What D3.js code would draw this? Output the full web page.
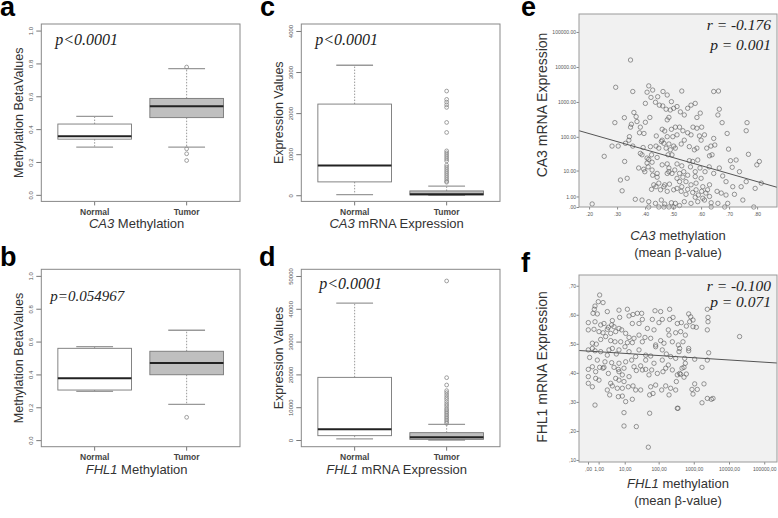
<!DOCTYPE html>
<html>
<head>
<meta charset="utf-8">
<script src="https://cdn.jsdelivr.net/npm/d3@7"></script>
<style>
  body { margin: 0; background: #fff; }
  svg { display: block; }
</style>
</head>
<body>
<svg id="fig" width="778" height="518"></svg>
<script>
const groups = ['Normal', 'Tumor'];

// box stats per group: [lower whisker, Q1, median, Q3, upper whisker]
const ca3MethStats = [[0.291, 0.339, 0.356, 0.431, 0.478], [0.291, 0.470, 0.539, 0.587, 0.768]];
const ca3MethOut = [[], [0.778, 0.280, 0.250, 0.209]];
const fhl1MethStats = [[0.297, 0.305, 0.376, 0.559, 0.569], [0.218, 0.398, 0.469, 0.541, 0.669]];
const fhl1MethOut = [[], [0.139]];
const ca3ExprStats = [[17, 325, 725, 2220, 3165], [0, 8, 24, 105, 220]];
const ca3ExprOut = [[], [2537, 2334, 2268, 2202, 2139, 1773, 1529, 1080, 1032, 983, 934, 885, 837,
  732, 683, 634, 585, 537, 488, 439, 390, 341, 317]];
const fhl1ExprStats = [[350, 1320, 3250, 19100, 41700], [0, 200, 810, 2240, 4780]];
const fhl1ExprOut = [[], [48480, 19000, 16770, 15040, 14430, 13720, 13000, 12400, 11690, 10980, 10370,
  9650, 9150, 8640, 8130, 7620, 7110, 6600, 6100, 5590, 5080]];

const methTicks = [0, 0.2, 0.4, 0.6, 0.8, 1.0];
const ca3ExprTicks = [0, 1000, 2000, 3000, 4000];
const fhl1ExprTicks = [0, 10000, 20000, 30000, 40000, 50000];

// panel e: [CA3 methylation, CA3 mRNA expression]
const ca3Points = [
  [0.348,15800],[0.295,2630],[0.356,1990],[0.413,2880],[0.427,2190],[0.407,1900],[0.421,1350],[0.445,1410],
  [0.464,1990],[0.479,1580],[0.494,1020],[0.437,980],[0.451,810],[0.463,770],[0.475,620],[0.49,590],
  [0.502,660],[0.514,740],[0.401,910],[0.36,500],[0.368,380],[0.326,355],[0.292,256],[0.351,230],
  [0.348,190],[0.371,275],[0.417,360],[0.401,262],[0.383,190],[0.344,101],[0.38,131],[0.396,125],
  [0.44,106],[0.461,165],[0.479,308],[0.485,362],[0.47,147],[0.494,165],[0.508,190],[0.514,114],
  [0.499,101],[0.479,101],[0.461,80],[0.467,65],[0.485,62],[0.502,54],[0.508,47],[0.49,42],
  [0.475,47],[0.458,73],[0.282,54],[0.304,54],[0.33,65],[0.356,54],[0.342,80],[0.393,49],
  [0.419,52],[0.439,54],[0.449,47],[0.423,30],[0.383,33],[0.389,30],[0.407,24],[0.413,22],
  [0.443,25],[0.482,30],[0.496,30],[0.254,27],[0.327,19],[0.377,12],[0.399,9.2],[0.395,11],
  [0.411,13],[0.425,18],[0.407,17],[0.425,10.4],[0.443,8.1],[0.461,15],[0.479,16],[0.485,12],
  [0.506,10.4],[0.514,16],[0.479,8.1],[0.485,9.2],[0.496,8.1],[0.443,6.1],[0.427,7.1],[0.449,3.8],
  [0.431,3.3],[0.439,2.8],[0.47,3.3],[0.487,3.5],[0.514,5.6],[0.312,4.9],[0.336,5.6],[0.318,1.9],
  [0.423,2.2],[0.455,2.1],[0.467,2.8],[0.479,1.8],[0.502,2.1],[0.514,2.4],[0.365,0.66],[0.389,0.58],
  [0.413,0.42],[0.458,0.58],[0.437,0.27],[0.47,0.22],[0.494,0.32],[0.508,0.27],[0.211,0.22],[0.413,0],
  [0.449,0],[0.467,0],[0.485,0],[0.502,0],
  [0.531,2050],[0.645,1990],[0.662,2050],[0.579,910],[0.564,810],[0.552,660],[0.526,520],[0.54,425],
  [0.597,480],[0.585,360],[0.665,620],[0.66,425],[0.675,256],[0.764,256],[0.761,150],[0.693,125],
  [0.571,190],[0.585,177],[0.602,190],[0.523,190],[0.535,150],[0.552,131],[0.564,114],[0.594,106],
  [0.612,114],[0.6,80],[0.645,90],[0.54,80],[0.529,62],[0.558,52],[0.576,42],[0.585,47],
  [0.62,47],[0.635,54],[0.649,58],[0.698,44],[0.769,31],[0.63,28],[0.639,30],[0.558,20],
  [0.57,19],[0.588,21],[0.531,14],[0.705,20],[0.725,21],[0.711,12.6],[0.737,9.2],[0.808,19],
  [0.799,15],[0.815,3.8],[0.793,2.4],[0.761,4.3],[0.743,2.8],[0.713,2.8],[0.689,4.3],[0.677,6.7],
  [0.665,12],[0.645,8.1],[0.629,13],[0.614,9.2],[0.596,12],[0.579,9.2],[0.552,7.1],[0.535,6.1],
  [0.523,4.3],[0.546,4.3],[0.564,3.3],[0.582,3.8],[0.606,2.8],[0.63,3.3],[0.657,1.8],[0.672,1.5],
  [0.689,1.2],[0.719,1.3],[0.529,1.8],[0.546,1.3],[0.57,1.6],[0.59,1.2],[0.617,1.5],[0.54,0.42],
  [0.564,0.27],[0.588,0.42],[0.612,0.58],[0.636,0.32],[0.66,0.27],[0.695,0.27],[0.749,0.58],[0.523,0.1],
  [0.636,0],[0.684,0],[0.788,0],[0.523,8.1],[0.538,9.2],[0.562,13],[0.579,6.4],[0.6,5.6],
  [0.531,2.8],[0.552,2.2],[0.582,2.1],[0.602,1.8],[0.623,2.1],[0.579,0.9],[0.606,0.78],[0.63,1.0]
];

// panel f: [FHL1 value on x axis, FHL1 value on y axis]
const fhl1Points = [
  [1.14,0.668],[0.96,0.645],[1.67,0.642],[0.58,0.630],[0.51,0.619],
  [0.39,0.605],[0.84,0.603],[2.53,0.611],[6.57,0.616],[12.1,0.619],[17.9,0.601],[24.1,0.605],[32.3,0.605],
  [78.6,0.614],[114,0.611],[206,0.619],[6.91,0.591],[13.6,0.596],
  [0.02,0.573],[0.58,0.576],[3.9,0.58],[3.69,0.565],[1.84,0.57],[2.78,0.557],[1.29,0.565],[4.47,0.559],
  [17.1,0.57],[27,0.57],[33.8,0.584],[65.8,0.584],[127,0.584],[102,0.573],[206,0.584],[257,0.591],
  [341,0.57],[47.2,0.553],[189,0.548],
  [0.02,0.548],[0.48,0.55],[1.05,0.542],[1.67,0.538],[2.53,0.55],[3.4,0.536],[5.1,0.542],[8.02,0.548],
  [10.7,0.536],[13.6,0.522],[19.2,0.519],[27,0.53],[40.4,0.522],[59,0.519],[114,0.511],[198,0.53],
  [306,0.538],[73.5,0.548],[6.57,0.553],
  [0.33,0.502],[1.29,0.515],[2.17,0.525],[3.4,0.511],[4.83,0.507],[7.45,0.507],[12.1,0.504],[17.1,0.504],
  [33.8,0.507],[82,0.496],[142,0.502],[246,0.507],[364,0.496],[0.72,0.499],
  [0.33,0.484],[0.02,0.479],[0.58,0.476],[1.29,0.473],[2.94,0.479],[3.9,0.484],[6.57,0.479],[10.2,0.49],
  [13.6,0.473],[27,0.479],[42.3,0.461],[82,0.49],[127,0.479],[166,0.465],[220,0.456],[381,0.473],
  [2.53,0.461],[5.37,0.465],[21.5,0.456],[59,0.458],
  [0.11,0.453],[0.84,0.444],[2.03,0.438],[3.69,0.435],[6.57,0.433],[10.7,0.438],[16.3,0.444],[4.47,0.419],
  [6.26,0.412],[9.5,0.416],[19.2,0.421],[30.2,0.424],[42.3,0.444],[73.5,0.433],[127,0.444],[189,0.427],
  [306,0.45],[0.33,0.421],[1.14,0.419],[1.84,0.419],
  [0.02,0.412],[0.65,0.404],[1.67,0.416],[2.78,0.398],[6.57,0.404],[8.42,0.393],[13.6,0.387],[22.5,0.408],
  [33.8,0.41],[42.3,0.412],[52.7,0.393],[63,0.41],[91.7,0.398],[133,0.404],[159,0.416],[246,0.41],
  [341,0.393],[0.02,0.387],[0.65,0.381],[5.1,0.381],
  [0.02,0.364],[0.33,0.352],[1.05,0.375],[3.4,0.364],[3.9,0.355],[6.57,0.375],[9.5,0.37],[12.9,0.352],
  [17.9,0.355],[21.5,0.341],[30.2,0.341],[59,0.352],[82,0.358],[159,0.355],[220,0.347],[320,0.37],
  [5.8,0.347],[2.53,0.341],[8.42,0.347],[122,0.341],
  [3.12,0.324],[6.26,0.318],[10.7,0.301],[17.1,0.309],[55.1,0.324],[68.8,0.329],[198,0.324],[306,0.341],
  [0.58,0.289],[341,0.278],[8.42,0.32],
  [9.5,0.263],[55.1,0.261],[9.5,0.217],[22.5,0.215],[50.5,0.144],
  [2426,0.619],[717,0.603],[818,0.593],[952,0.582],[765,0.576],[952,0.559],[1182,0.557],[2534,0.591],
  [2534,0.576],[2426,0.548],[444,0.573],[616,0.561],[424,0.542],[576,0.53],[494,0.507],[397,0.484],
  [717,0.484],[717,0.476],[2648,0.469],[19950,0.525],[551,0.45],[1061,0.447],[2426,0.444],[576,0.433],
  [464,0.416],[397,0.398],[528,0.419],[616,0.396],[528,0.385],[1713,0.419],[424,0.395],[1061,0.362],
  [1950,0.362],[890,0.343],[1259,0.343],[952,0.327],[1713,0.297],[2426,0.312],[3153,0.309],[3516,0.312],
  [356,0.278]
];

// fitted lines: panel e is linear in log10(expr+1), panel f linear in log10(x+1)
const ca3Fit = { intercept: 2.555, slope: -2.287 };
const fhl1Fit = { intercept: 0.475, slope: -0.00766 };

const expTicks = [0, 1, 10, 100, 1000, 10000, 100000];
const ca3MethAxisTicks = [0.2, 0.3, 0.4, 0.5, 0.6, 0.7, 0.8];
const fhl1YTicks = [0.1, 0.2, 0.3, 0.4, 0.5, 0.6, 0.7];

const svg = d3.select('#fig');
const sans = "'Liberation Sans', Arial, sans-serif";
const serif = "'Liberation Serif', 'Times New Roman', serif";
const boxW = 198.7, boxH = 177.4;

function letter(txt, x, y) {
  svg.append('text').attr('x', x).attr('y', y)
    .attr('font-family', sans).attr('font-weight', 'bold').attr('font-size', 27)
    .text(txt);
}

function boxPanel(o) {
  const g = svg.append('g').attr('transform', `translate(${o.x},${o.y})`);
  const x = d3.scaleLinear().domain([0.42, 2.58]).range([0, boxW]);
  const y = d3.scaleLinear().domain(o.yDomain).range([boxH, 0]);

  // y axis, R style with rotated labels
  const ya = g.append('g').call(d3.axisLeft(y).tickValues(o.ticks).tickSize(5).tickSizeOuter(0).tickFormat(o.fmt));
  ya.select('.domain').remove();
  ya.selectAll('line').attr('stroke', '#777');
  ya.selectAll('text')
    .attr('x', null).attr('dy', null)
    .attr('transform', 'translate(-8.5,0) rotate(-90)')
    .attr('text-anchor', 'middle')
    .attr('font-family', sans).attr('font-size', 6).attr('fill', '#555');

  // x axis
  groups.forEach((name, i) => {
    const cx = x(i + 1);
    g.append('line').attr('x1', cx).attr('x2', cx).attr('y1', boxH).attr('y2', boxH + 4).attr('stroke', '#777');
    g.append('text').attr('x', cx).attr('y', boxH + 13.5).attr('text-anchor', 'middle')
      .attr('font-family', sans).attr('font-weight', 'bold').attr('font-size', 8.5).attr('fill', '#444')
      .text(name);
  });

  g.append('rect').attr('width', boxW).attr('height', boxH)
    .attr('fill', 'none').attr('stroke', '#888').attr('stroke-width', 1);

  o.stats.forEach((s, i) => {
    const c = i + 1;
    const [lo, q1, med, q3, hi] = s;
    const dash = '1.5,1.5';
    g.append('line').attr('x1', x(c)).attr('x2', x(c)).attr('y1', y(q3)).attr('y2', y(hi))
      .attr('stroke', '#999').attr('stroke-dasharray', dash);
    g.append('line').attr('x1', x(c)).attr('x2', x(c)).attr('y1', y(q1)).attr('y2', y(lo))
      .attr('stroke', '#999').attr('stroke-dasharray', dash);
    [lo, hi].forEach(v => {
      g.append('line').attr('x1', x(c - 0.2)).attr('x2', x(c + 0.2)).attr('y1', y(v)).attr('y2', y(v))
        .attr('stroke', '#999').attr('stroke-width', 1.3);
    });
    g.append('rect').attr('x', x(c - 0.4)).attr('width', x(c + 0.4) - x(c - 0.4))
      .attr('y', y(q3)).attr('height', Math.max(y(q1) - y(q3), 0.5))
      .attr('fill', i === 0 ? '#fff' : '#bfbfbf').attr('stroke', '#777').attr('stroke-width', 0.9);
    g.append('line').attr('x1', x(c - 0.4)).attr('x2', x(c + 0.4)).attr('y1', y(med)).attr('y2', y(med))
      .attr('stroke', '#222').attr('stroke-width', 2);
    g.selectAll(null).data(o.outliers[i]).join('circle')
      .attr('cx', x(c)).attr('cy', d => y(d)).attr('r', 1.9)
      .attr('fill', 'none').attr('stroke', '#888').attr('stroke-width', 0.8);
  });

  g.append('text').attr('x', o.pX).attr('y', o.pY)
    .attr('font-family', serif).attr('font-style', 'italic').attr('font-size', o.pSize || 16).attr('fill', '#222')
    .text(o.p);

  const xt = g.append('text').attr('x', boxW / 2 - 4).attr('y', boxH + 27)
    .attr('text-anchor', 'middle').attr('font-family', sans).attr('font-size', 13).attr('fill', '#333');
  xt.append('tspan').attr('font-style', 'italic').text(o.gene);
  xt.append('tspan').text(o.xTitle);

  g.append('text').attr('transform', `translate(${-18.5},${boxH / 2}) rotate(-90)`)
    .attr('text-anchor', 'middle').attr('font-family', sans).attr('font-size', 12.5).attr('fill', '#333')
    .text(o.yTitle);
}

boxPanel({ x: 41.3, y: 24, yDomain: [-0.04, 1.04], ticks: methTicks, fmt: d3.format('.1f'),
  stats: ca3MethStats, outliers: ca3MethOut, p: 'p<0.0001', pX: 14, pY: 20.5,
  gene: 'CA3', xTitle: ' Methylation', yTitle: 'Methylation BetaValues' });
boxPanel({ x: 41.3, y: 269.3, yDomain: [-0.04, 1.04], ticks: methTicks, fmt: d3.format('.1f'),
  stats: fhl1MethStats, outliers: fhl1MethOut, p: 'p=0.054967', pX: 9, pY: 31.5, pSize: 15,
  gene: 'FHL1', xTitle: ' Methylation', yTitle: 'Methylation BetaValues' });
boxPanel({ x: 301.3, y: 24, yDomain: [-150, 4170], ticks: ca3ExprTicks, fmt: d3.format('d'),
  stats: ca3ExprStats, outliers: ca3ExprOut, p: 'p<0.0001', pX: 14, pY: 20.5,
  gene: 'CA3', xTitle: ' mRNA Expression', yTitle: 'Expression Values' });
boxPanel({ x: 301.3, y: 269.3, yDomain: [-2040, 52040], ticks: fhl1ExprTicks, fmt: d3.format('d'),
  stats: fhl1ExprStats, outliers: fhl1ExprOut, p: 'p<0.0001', pX: 18, pY: 20,
  gene: 'FHL1', xTitle: ' mRNA Expression', yTitle: 'Expression Values' });

function scatterPanel(o) {
  const w = 198, h = o.h;
  const g = svg.append('g').attr('transform', `translate(${o.x},${o.y})`);
  const x = o.xScale.range([0, w]);
  const y = o.yScale.range([h, 0]);

  g.append('rect').attr('width', w).attr('height', h).attr('fill', '#f1f1f1');

  const ya = g.append('g').call(d3.axisLeft(y).tickValues(o.yTicks).tickSize(2.5).tickSizeOuter(0).tickFormat(o.yFmt));
  ya.select('.domain').remove();
  ya.selectAll('line').attr('stroke', '#888');
  ya.selectAll('text').attr('x', -3).attr('font-family', sans).attr('font-size', 5).attr('fill', '#555');

  const xa = g.append('g').attr('transform', `translate(0,${h})`)
    .call(d3.axisBottom(x).tickValues(o.xTicks).tickSize(2.5).tickSizeOuter(0).tickFormat(o.xFmt));
  xa.select('.domain').remove();
  xa.selectAll('line').attr('stroke', '#888');
  xa.selectAll('text').attr('y', 5).attr('font-family', sans).attr('font-size', 5).attr('fill', '#555');

  g.selectAll('circle.pt').data(o.points).join('circle').attr('class', 'pt')
    .attr('cx', d => x(d[0])).attr('cy', d => y(d[1])).attr('r', 2.2)
    .attr('fill', 'none').attr('stroke', '#555').attr('stroke-width', 0.6);

  const xd = x.domain();
  g.append('path').datum(xd.map(v => [v, o.fit(v)]))
    .attr('d', d3.line().x(d => x(d[0])).y(d => y(d[1])))
    .attr('fill', 'none').attr('stroke', '#555').attr('stroke-width', 1);

  g.append('rect').attr('width', w).attr('height', h).attr('fill', 'none').attr('stroke', '#999');

  o.stat.forEach((t, i) => {
    g.append('text').attr('x', w - 6).attr('y', o.statY[i]).attr('text-anchor', 'end')
      .attr('font-family', serif).attr('font-style', 'italic').attr('font-size', 15.5).attr('fill', '#222')
      .text(t);
  });

  g.append('text').attr('transform', `translate(${-32},${o.yTitleY}) rotate(-90)`)
    .attr('text-anchor', 'middle').attr('font-family', sans).attr('font-size', 14).attr('fill', '#333')
    .text(o.yTitle);

  const xt = g.append('text').attr('x', w / 2).attr('y', o.xTitleY)
    .attr('text-anchor', 'middle').attr('font-family', sans).attr('font-size', 13).attr('fill', '#333');
  xt.append('tspan').attr('font-style', 'italic').text(o.gene);
  xt.append('tspan').text(' methylation');
  g.append('text').attr('x', w / 2).attr('y', o.xTitleY + 17)
    .attr('text-anchor', 'middle').attr('font-family', sans).attr('font-size', 13).attr('fill', '#333')
    .text('(mean \u03B2-value)');
}

const lg = v => Math.sign(v) * Math.log10(1 + Math.abs(v));

scatterPanel({
  x: 579, y: 14, h: 193, points: ca3Points,
  xScale: d3.scaleLinear().domain([0.164, 0.871]),
  yScale: d3.scaleSymlog().constant(1).domain([0, 326000]),
  xTicks: ca3MethAxisTicks, xFmt: v => d3.format('.2f')(v).replace(/^0/, ''),
  yTicks: expTicks, yFmt: v => v === 0 ? '.00' : d3.format('.2f')(v),
  fit: v => Math.pow(10, ca3Fit.intercept + ca3Fit.slope * v) - 1,
  stat: ['r = -0.176', 'p = 0.001'], statY: [16, 36],
  yTitle: 'CA3 mRNA Expression', yTitleY: 91, gene: 'CA3', xTitleY: 226
});

scatterPanel({
  x: 579, y: 275, h: 187, points: fhl1Points,
  xScale: d3.scaleSymlog().constant(1).domain([-0.8, 230000]),
  yScale: d3.scaleLinear().domain([0.093, 0.737]),
  xTicks: expTicks, xFmt: v => v === 0 ? ',00' : d3.format('.2f')(v).replace('.', ','),
  yTicks: fhl1YTicks, yFmt: v => d3.format('.2f')(v).replace(/^0\./, ','),
  fit: v => fhl1Fit.intercept + fhl1Fit.slope * lg(v),
  stat: ['r = -0.100', 'p = 0.071'], statY: [16, 32],
  yTitle: 'FHL1 mRNA Expression', yTitleY: 92, gene: 'FHL1', xTitleY: 213
});

letter('a', 0, 16);
letter('c', 260, 16);
letter('e', 521, 16);
letter('b', 0, 266);
letter('d', 259, 266);
letter('f', 521, 272);
</script>
</body>
</html>
